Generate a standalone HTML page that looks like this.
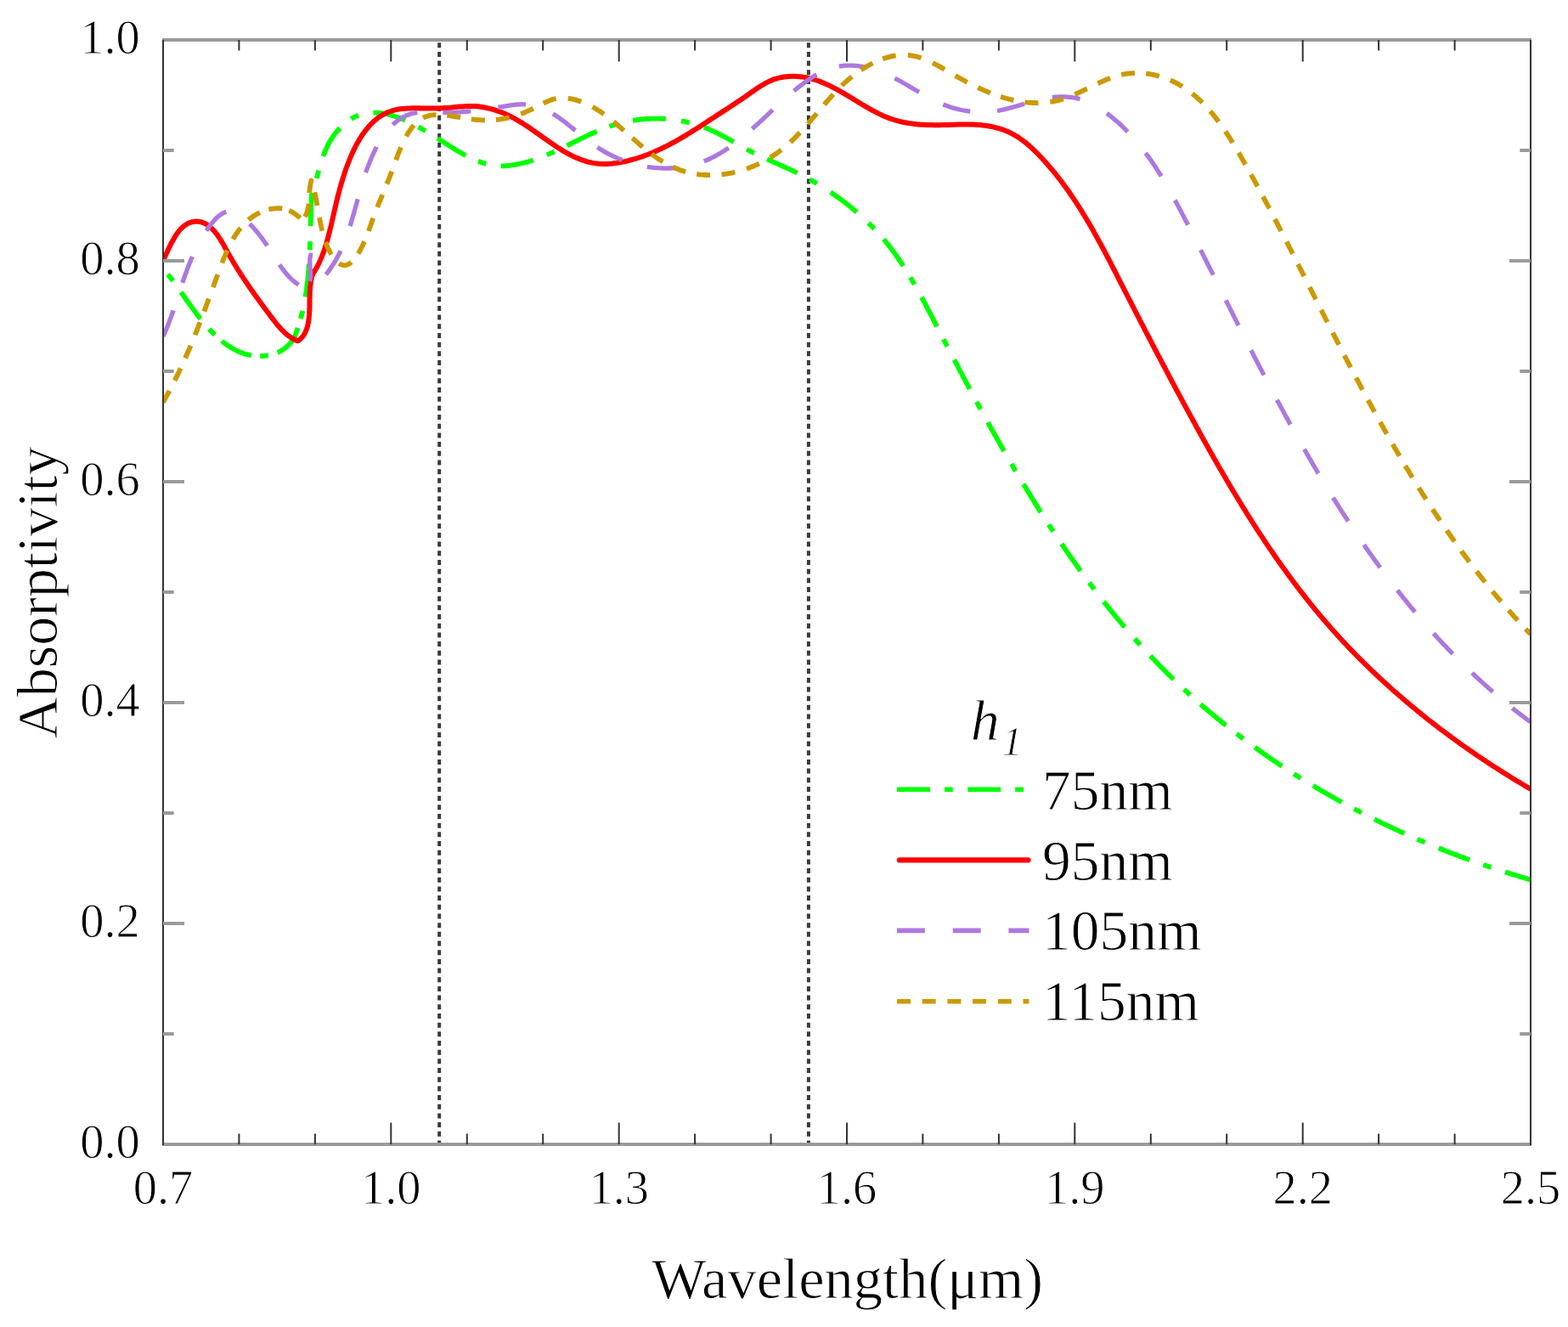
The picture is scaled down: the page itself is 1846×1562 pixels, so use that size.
<!DOCTYPE html>
<html><head><meta charset="utf-8"><title>Absorptivity vs Wavelength</title>
<style>html,body{margin:0;padding:0;background:#fff;} svg{display:block;}</style>
</head><body>
<svg width="1846" height="1562" viewBox="0 0 1846 1562">
<rect width="1846" height="1562" fill="#fff"/>
<defs><clipPath id="pc"><rect x="192.0" y="47.0" width="1610.0" height="1300.0"/></clipPath></defs>
<line x1="517.2" y1="50.2" x2="517.2" y2="1347" stroke="#3a3a3a" stroke-width="4" stroke-dasharray="6 4.68"/>
<line x1="951.9" y1="50.2" x2="951.9" y2="1347" stroke="#3a3a3a" stroke-width="4" stroke-dasharray="6 4.68"/>
<g clip-path="url(#pc)" fill="none" stroke-linejoin="round">
<path d="M192.0 316.0L193.9 318.3 195.9 320.6 197.7 323.0 199.6 325.4 201.5 327.8 203.3 330.2 205.1 332.6 206.9 335.1 208.6 337.5 210.4 340.0 212.2 342.5 213.9 345.0 215.7 347.5 217.4 350.0 219.2 352.5 220.9 355.0 222.7 357.4 224.5 359.9 226.3 362.4 228.1 364.9 229.9 367.3 231.7 369.8 233.6 372.2 235.4 374.6 237.4 377.0 239.3 379.3 241.3 381.7 243.3 384.0 245.3 386.2 247.4 388.5 249.5 390.7 251.7 392.9 253.9 395.0 256.1 397.1 258.4 399.1 260.7 401.1 263.1 403.0 265.5 404.8 268.0 406.5 270.5 408.2 273.1 409.8 275.7 411.2 278.4 412.6 281.1 413.8 283.8 415.0 286.6 416.0 289.5 416.9 292.4 417.6 295.3 418.2 298.3 418.7 301.3 419.0 304.3 419.1 307.3 419.1 310.3 419.0 313.3 418.6 316.2 418.2 319.2 417.5 322.0 416.7 324.8 415.7 327.6 414.6 330.2 413.2 332.8 411.7 335.2 410.1 337.5 408.2 339.7 406.1 341.8 403.9 343.7 401.5 345.4 398.8 347.0 396.0 348.1 393.2 349.1 390.3 350.1 387.5 351.1 384.6 352.0 381.7 352.9 378.8 353.7 375.9 354.5 373.0 355.2 370.1 356.0 367.2 356.6 364.3 357.3 361.3 357.9 358.4 358.5 355.5 359.0 352.5 359.5 349.5 360.0 346.6 360.4 343.6 360.9 340.6 361.3 337.7 361.6 334.7 362.0 331.7 362.3 328.7 362.6 325.7 362.9 322.7 363.1 319.7 363.4 316.7 363.6 313.7 363.8 310.6 364.0 307.6 364.2 304.6 364.4 301.6 364.5 298.6 364.6 295.5 364.8 292.5 364.9 289.5 365.0 286.5 365.1 283.4 365.2 280.4 365.3 277.4 365.4 274.4 365.5 271.3 365.6 268.3 365.6 265.3 365.7 262.3 365.8 259.2 365.9 256.2 366.0 253.2 366.1 250.2 366.2 247.2 366.3 244.2 366.4 241.2 366.6 238.2 366.7 235.2 366.8 232.2 367.0 229.2 367.9 226.6 368.8 224.0 369.6 221.3 370.4 218.6 371.2 215.8 372.0 212.9 372.8 210.0 373.5 207.1 374.3 204.2 375.1 201.2 376.0 198.2 376.8 195.2 377.7 192.2 378.7 189.2 379.7 186.3 380.7 183.3 381.8 180.4 383.0 177.4 384.3 174.6 385.6 171.7 387.0 168.9 388.6 166.2 390.2 163.5 391.9 160.9 393.7 158.3 395.7 155.8 397.7 153.5 399.8 151.2 401.9 149.0 404.2 146.9 406.5 144.9 408.8 143.1 411.2 141.4 413.7 139.8 416.2 138.4 418.7 137.2 421.3 136.1 423.9 135.1 426.5 134.4 429.1 133.7 431.8 133.2 434.5 132.9 437.2 132.7 439.9 132.6 442.6 132.7 445.4 132.8 448.2 133.1 450.9 133.5 453.7 134.0 456.5 134.6 459.4 135.3 462.2 136.1 465.0 137.0 467.9 138.0 470.7 139.0 473.5 140.2 476.4 141.4 479.2 142.6 482.1 144.0 484.9 145.4 487.7 146.8 490.5 148.3 493.4 149.8 496.2 151.4 499.0 153.0 501.8 154.6 504.5 156.2 507.3 157.9 510.0 159.6 512.7 161.3 515.4 163.0 518.1 164.7 520.8 166.4 523.4 168.1 526.1 169.8 528.7 171.4 531.3 173.0 533.9 174.7 536.4 176.2 539.0 177.8 541.6 179.3 544.1 180.8 546.7 182.2 549.3 183.6 551.9 184.9 554.4 186.2 557.0 187.4 559.6 188.5 562.2 189.5 564.9 190.5 567.5 191.4 570.2 192.3 572.9 193.0 575.6 193.6 578.3 194.2 581.1 194.6 583.9 194.9 586.7 195.2 589.6 195.3 592.4 195.3 595.4 195.2 598.3 194.9 601.3 194.6 604.3 194.2 607.3 193.7 610.3 193.2 613.3 192.5 616.3 191.8 619.3 191.0 622.2 190.2 625.2 189.3 628.1 188.3 631.0 187.3 633.9 186.3 636.8 185.2 639.7 184.1 642.5 182.9 645.3 181.7 648.1 180.5 650.9 179.3 653.7 178.0 656.4 176.7 659.2 175.4 661.9 174.1 664.6 172.8 667.4 171.5 670.1 170.1 672.8 168.8 675.5 167.4 678.2 166.1 680.9 164.8 683.6 163.4 686.3 162.1 689.0 160.8 691.7 159.5 694.4 158.3 697.2 157.0 699.9 155.8 702.6 154.6 705.4 153.4 708.1 152.3 710.9 151.2 713.7 150.2 716.5 149.2 719.3 148.2 722.1 147.3 725.0 146.4 727.8 145.6 730.7 144.8 733.6 144.1 736.5 143.5 739.5 142.9 742.4 142.3 745.4 141.8 748.3 141.3 751.3 140.9 754.3 140.6 757.2 140.3 760.2 140.0 763.2 139.8 766.2 139.7 769.2 139.6 772.2 139.6 775.2 139.6 778.2 139.7 781.2 139.8 784.2 140.0 787.2 140.2 790.2 140.5 793.2 140.9 796.1 141.3 799.1 141.8 802.1 142.3 805.0 142.8 807.9 143.5 810.8 144.2 813.8 144.9 816.6 145.7 819.5 146.5 822.4 147.5 825.2 148.4 828.0 149.4 830.8 150.5 833.6 151.7 836.4 152.9 839.1 154.1 841.8 155.4 844.5 156.7 847.2 158.1 849.9 159.5 852.5 160.9 855.2 162.3 857.9 163.8 860.5 165.3 863.1 166.8 865.8 168.3 868.4 169.7 871.0 171.2 873.7 172.7 876.3 174.2 879.0 175.6 881.6 177.0 884.3 178.4 886.9 179.8 889.6 181.1 892.3 182.4 895.0 183.7 897.7 184.9 900.4 186.2 903.1 187.4 905.8 188.6 908.5 189.8 911.2 191.0 913.9 192.2 916.7 193.4 919.4 194.6 922.1 195.8 924.8 197.1 927.5 198.3 930.2 199.5 932.9 200.8 935.6 202.1 938.3 203.4 941.0 204.7 943.7 206.1 946.3 207.4 949.0 208.9 951.6 210.3 954.2 211.7 956.9 213.2 959.5 214.7 962.1 216.3 964.7 217.8 967.3 219.4 969.8 221.0 972.4 222.6 974.9 224.3 977.4 225.9 979.9 227.6 982.4 229.4 984.9 231.1 987.4 232.9 989.8 234.7 992.3 236.5 994.7 238.3 997.1 240.2 999.4 242.0 1001.8 243.9 1004.1 245.9 1006.4 247.8 1008.7 249.8 1011.0 251.8 1013.3 253.8 1015.5 255.8 1017.7 257.8 1019.9 259.9 1022.1 262.0 1024.2 264.1 1026.3 266.2 1028.4 268.4 1030.5 270.6 1032.5 272.8 1034.5 275.0 1036.5 277.2 1038.5 279.4 1040.4 281.7 1042.3 284.0 1044.2 286.3 1046.1 288.6 1047.9 291.0 1049.7 293.3 1051.5 295.7 1053.2 298.1 1054.9 300.5 1056.6 302.9 1058.3 305.3 1060.0 307.8 1061.6 310.3 1063.3 312.7 1064.9 315.2 1066.4 317.7 1068.0 320.3 1069.6 322.8 1071.1 325.3 1072.6 327.9 1074.1 330.4 1075.6 333.0 1077.1 335.6 1078.6 338.2 1080.0 340.7 1081.5 343.3 1082.9 346.0 1084.3 348.6 1085.7 351.2 1087.2 353.8 1088.6 356.5 1090.0 359.1 1091.3 361.7 1092.7 364.4 1094.1 367.0 1095.5 369.7 1096.9 372.4 1098.3 375.0 1099.6 377.7 1101.0 380.3 1102.4 383.0 1103.8 385.7 1105.1 388.3 1106.5 391.0 1107.9 393.7 1109.3 396.3 1110.7 399.0 1112.0 401.7 1113.4 404.3 1114.8 407.0 1116.2 409.6 1117.6 412.3 1119.0 415.0 1120.4 417.6 1121.8 420.3 1123.2 423.0 1124.6 425.6 1126.0 428.3 1127.4 431.0 1128.8 433.6 1130.2 436.3 1131.6 439.0 1133.0 441.6 1134.4 444.3 1135.8 447.0 1137.2 449.6 1138.7 452.3 1140.1 454.9 1141.5 457.6 1142.9 460.3 1144.4 462.9 1145.8 465.6 1147.2 468.2 1148.7 470.9 1150.1 473.5 1151.5 476.2 1153.0 478.8 1154.4 481.5 1155.9 484.1 1157.3 486.8 1158.8 489.4 1160.2 492.1 1161.7 494.7 1163.1 497.4 1164.6 500.0 1166.1 502.6 1167.5 505.3 1169.0 507.9 1170.5 510.5 1172.0 513.2 1173.4 515.8 1174.9 518.4 1176.4 521.1 1177.9 523.7 1179.4 526.3 1180.9 528.9 1182.4 531.5 1183.9 534.2 1185.4 536.8 1186.9 539.4 1188.4 542.0 1190.0 544.6 1191.5 547.2 1193.0 549.8 1194.5 552.4 1196.1 555.0 1197.6 557.6 1199.1 560.2 1200.7 562.8 1202.2 565.4 1203.8 567.9 1205.3 570.5 1206.9 573.1 1208.5 575.7 1210.0 578.3 1211.6 580.8 1213.2 583.4 1214.8 586.0 1216.4 588.5 1217.9 591.1 1219.5 593.6 1221.1 596.2 1222.7 598.7 1224.3 601.3 1226.0 603.8 1227.6 606.3 1229.2 608.9 1230.8 611.4 1232.5 613.9 1234.1 616.4 1235.7 619.0 1237.4 621.5 1239.0 624.0 1240.7 626.5 1242.3 629.0 1244.0 631.5 1245.7 634.0 1247.4 636.5 1249.0 639.0 1250.7 641.4 1252.4 643.9 1254.1 646.4 1255.8 648.9 1257.5 651.3 1259.2 653.8 1260.9 656.2 1262.7 658.7 1264.4 661.1 1266.1 663.6 1267.9 666.0 1269.6 668.5 1271.4 670.9 1273.1 673.3 1274.9 675.7 1276.6 678.1 1278.4 680.6 1280.2 683.0 1282.0 685.4 1283.8 687.7 1285.6 690.1 1287.4 692.5 1289.2 694.9 1291.0 697.3 1292.8 699.6 1294.6 702.0 1296.5 704.4 1298.3 706.7 1300.2 709.1 1302.0 711.4 1303.9 713.7 1305.7 716.1 1307.6 718.4 1309.5 720.7 1311.4 723.0 1313.3 725.3 1315.2 727.6 1317.1 729.9 1319.0 732.2 1320.9 734.5 1322.8 736.8 1324.8 739.0 1326.7 741.3 1328.7 743.6 1330.6 745.8 1332.6 748.0 1334.5 750.3 1336.5 752.5 1338.5 754.7 1340.5 757.0 1342.5 759.2 1344.5 761.4 1346.5 763.6 1348.5 765.8 1350.5 768.0 1352.6 770.1 1354.6 772.3 1356.7 774.5 1358.7 776.6 1360.8 778.8 1362.8 780.9 1364.9 783.1 1367.0 785.2 1369.1 787.3 1371.2 789.4 1373.3 791.5 1375.4 793.6 1377.6 795.7 1379.7 797.8 1381.8 799.9 1384.0 802.0 1386.1 804.0 1388.3 806.1 1390.5 808.1 1392.7 810.2 1394.9 812.2 1397.1 814.2 1399.3 816.3 1401.5 818.3 1403.7 820.3 1405.9 822.3 1408.1 824.3 1410.4 826.3 1412.6 828.2 1414.9 830.2 1417.2 832.2 1419.4 834.1 1421.7 836.0 1424.0 838.0 1426.3 839.9 1428.6 841.8 1430.9 843.7 1433.2 845.7 1435.5 847.6 1437.9 849.4 1440.2 851.3 1442.5 853.2 1444.9 855.1 1447.2 856.9 1449.6 858.8 1452.0 860.6 1454.3 862.5 1456.7 864.3 1459.1 866.1 1461.5 867.9 1463.9 869.8 1466.3 871.6 1468.7 873.3 1471.1 875.1 1473.6 876.9 1476.0 878.7 1478.4 880.4 1480.9 882.2 1483.3 883.9 1485.8 885.7 1488.2 887.4 1490.7 889.1 1493.2 890.9 1495.7 892.6 1498.1 894.3 1500.6 896.0 1503.1 897.6 1505.6 899.3 1508.1 901.0 1510.6 902.7 1513.2 904.3 1515.7 906.0 1518.2 907.6 1520.8 909.2 1523.3 910.9 1525.8 912.5 1528.4 914.1 1530.9 915.7 1533.5 917.3 1536.1 918.9 1538.6 920.4 1541.2 922.0 1543.8 923.6 1546.4 925.1 1549.0 926.7 1551.6 928.2 1554.2 929.8 1556.8 931.3 1559.4 932.8 1562.0 934.3 1564.6 935.8 1567.2 937.3 1569.9 938.8 1572.5 940.3 1575.1 941.7 1577.8 943.2 1580.4 944.6 1583.1 946.1 1585.7 947.5 1588.4 949.0 1591.0 950.4 1593.7 951.8 1596.4 953.2 1599.0 954.6 1601.7 956.0 1604.4 957.4 1607.1 958.8 1609.8 960.1 1612.5 961.5 1615.2 962.8 1617.9 964.2 1620.6 965.5 1623.3 966.9 1626.0 968.2 1628.7 969.5 1631.4 970.8 1634.1 972.1 1636.9 973.4 1639.6 974.7 1642.3 976.0 1645.1 977.2 1647.8 978.5 1650.5 979.7 1653.3 981.0 1656.0 982.2 1658.8 983.4 1661.5 984.7 1664.3 985.9 1667.1 987.1 1669.8 988.3 1672.6 989.5 1675.4 990.6 1678.1 991.8 1680.9 993.0 1683.7 994.1 1686.5 995.3 1689.2 996.4 1692.0 997.5 1694.8 998.7 1697.6 999.8 1700.4 1000.9 1703.2 1002.0 1706.0 1003.1 1708.8 1004.2 1711.6 1005.3 1714.4 1006.3 1717.2 1007.4 1720.0 1008.4 1722.8 1009.5 1725.6 1010.5 1728.4 1011.6 1731.2 1012.6 1734.0 1013.6 1736.8 1014.6 1739.7 1015.6 1742.5 1016.6 1745.3 1017.6 1748.1 1018.5 1750.9 1019.5 1753.8 1020.5 1756.6 1021.4 1759.4 1022.3 1762.3 1023.3 1765.1 1024.2 1767.9 1025.1 1770.8 1026.0 1773.6 1026.9 1776.4 1027.8 1779.3 1028.7 1782.1 1029.6 1784.9 1030.5 1787.8 1031.3 1790.6 1032.2 1793.5 1033.0 1796.3 1033.9 1799.2 1034.7 1802.0 1035.5" stroke="#00ff00" stroke-width="5.8" stroke-dasharray="0.00 8.91 9.80 16.24 39.00 15.46 9.80 11.04 39.00 10.41 9.80 11.16 39.00 11.20 9.80 16.73 39.00 16.74 9.80 18.19 39.00 17.80 9.80 17.41 39.00 16.98 9.80 17.73 39.00 17.28 9.80 16.50 39.00 16.10 9.80 17.48 39.00 17.06 9.80 16.26 39.00 15.95 9.80 18.65 39.00 18.35 9.80 18.12 39.00 17.59 9.80 16.86 39.00 16.53 9.80 19.02 39.00 18.57 9.80 16.36 39.00 15.85 9.80 17.01 39.00 16.70 9.80 17.56 39.00 17.19 9.80 17.68 39.00 17.29 9.80 17.71 39.00 17.30 9.80 17.50 39.00 17.13 9.80 18.31 39.00 17.90 9.80 17.46 39.00 16.94 9.80 16.34 39.00 15.93 9.80 16.90 39.00 16.54 9.80 16.88 39.00 16.49 9.80 17.02 39.00 16.66 9.80 17.46 39.00 17.09 9.80 17.41 31.03 50.00"/>
<path d="M192.0 306.5L193.2 304.2 194.4 301.7 195.6 299.0 196.9 296.3 198.2 293.4 199.6 290.5 201.0 287.6 202.5 284.7 204.1 281.9 205.7 279.1 207.4 276.4 209.3 273.8 211.2 271.3 213.2 269.1 215.4 267.0 217.7 265.2 220.1 263.7 222.6 262.4 225.3 261.5 228.0 260.9 230.8 260.6 233.6 260.7 236.4 261.2 239.1 262.1 241.7 263.3 244.2 264.8 246.6 266.6 248.8 268.5 250.9 270.6 252.9 272.8 254.8 275.1 256.6 277.6 258.3 280.2 260.0 282.8 261.6 285.5 263.2 288.2 264.7 291.0 266.2 293.8 267.8 296.5 269.3 299.3 270.8 301.9 272.4 304.6 273.9 307.3 275.5 309.9 277.1 312.5 278.7 315.1 280.2 317.6 281.9 320.2 283.5 322.7 285.1 325.2 286.7 327.7 288.4 330.1 290.0 332.6 291.7 335.0 293.4 337.5 295.1 339.9 296.8 342.3 298.5 344.8 300.2 347.2 302.0 349.6 303.7 352.0 305.5 354.4 307.2 356.8 309.0 359.2 310.8 361.7 312.6 364.1 314.4 366.5 316.3 368.9 318.1 371.4 319.9 373.9 321.8 376.3 323.7 378.8 325.6 381.2 327.6 383.5 329.6 385.9 331.7 388.1 333.8 390.2 336.0 392.3 338.2 394.2 340.6 395.9 343.0 397.6 345.6 399.0 348.2 400.3 351.0 401.3 353.3 399.4 355.3 397.3 357.1 395.1 358.6 392.7 359.8 390.2 360.9 387.6 361.8 384.9 362.5 382.1 363.0 379.2 363.5 376.2 363.8 373.3 364.1 370.2 364.2 367.2 364.4 364.1 364.5 361.0 364.5 357.8 364.5 354.7 364.6 351.6 364.7 348.5 364.7 345.4 364.9 342.3 365.1 339.3 365.4 336.3 365.8 333.3 366.2 330.4 366.9 327.5 367.6 324.7 368.5 322.0 370.1 319.6 371.6 317.1 373.0 314.6 374.4 312.0 375.7 309.3 376.9 306.6 378.1 303.9 379.2 301.2 380.3 298.4 381.3 295.5 382.3 292.7 383.2 289.8 384.1 286.9 385.0 284.0 385.8 281.0 386.6 278.1 387.4 275.1 388.1 272.1 388.8 269.2 389.6 266.2 390.3 263.2 390.9 260.3 391.6 257.3 392.3 254.4 393.0 251.5 393.6 248.6 394.3 245.7 395.0 242.8 395.6 239.9 396.3 237.0 397.0 234.2 397.7 231.3 398.4 228.5 399.2 225.6 399.9 222.8 400.7 220.0 401.5 217.1 402.3 214.3 403.2 211.5 404.1 208.6 405.0 205.8 405.9 202.9 406.9 200.1 407.9 197.2 409.0 194.3 410.1 191.5 411.2 188.6 412.4 185.7 413.6 182.8 414.9 180.0 416.2 177.1 417.6 174.3 419.0 171.5 420.5 168.8 422.0 166.1 423.6 163.4 425.2 160.8 426.9 158.3 428.7 155.8 430.5 153.4 432.3 151.1 434.3 148.8 436.2 146.6 438.3 144.6 440.4 142.6 442.6 140.7 444.8 138.9 447.1 137.3 449.5 135.8 451.9 134.4 454.4 133.1 457.0 132.0 459.7 131.0 462.4 130.1 465.2 129.4 468.0 128.8 471.0 128.3 473.9 128.0 476.9 127.7 480.0 127.5 483.1 127.4 486.2 127.3 489.3 127.3 492.5 127.3 495.6 127.4 498.8 127.4 502.0 127.5 505.1 127.5 508.3 127.6 511.4 127.6 514.6 127.5 517.7 127.5 520.7 127.3 523.8 127.1 526.8 126.9 529.8 126.7 532.7 126.4 535.7 126.1 538.6 125.8 541.5 125.6 544.4 125.4 547.3 125.2 550.2 125.1 553.1 125.0 556.0 125.0 559.0 125.1 561.9 125.3 564.8 125.6 567.7 126.0 570.6 126.5 573.6 127.1 576.5 127.8 579.4 128.5 582.2 129.4 585.1 130.3 587.9 131.3 590.7 132.4 593.5 133.5 596.2 134.7 598.9 136.0 601.5 137.3 604.2 138.7 606.8 140.1 609.3 141.6 611.9 143.1 614.4 144.6 617.0 146.2 619.5 147.9 622.0 149.5 624.5 151.2 627.0 153.0 629.5 154.7 632.0 156.5 634.5 158.2 636.9 160.0 639.4 161.8 641.9 163.5 644.4 165.3 646.9 167.1 649.4 168.8 652.0 170.5 654.5 172.2 657.0 173.9 659.6 175.5 662.1 177.1 664.7 178.6 667.3 180.1 669.9 181.5 672.6 182.9 675.2 184.2 677.9 185.4 680.6 186.5 683.3 187.6 686.0 188.6 688.8 189.5 691.5 190.3 694.4 191.0 697.2 191.6 700.1 192.1 703.0 192.5 705.9 192.8 708.9 192.9 711.9 192.9 714.9 192.9 717.9 192.7 720.9 192.5 724.0 192.1 727.0 191.7 730.1 191.2 733.1 190.6 736.1 190.0 739.1 189.3 742.1 188.5 745.1 187.7 748.0 186.9 750.9 186.0 753.8 185.0 756.7 184.1 759.5 183.0 762.4 182.0 765.2 180.9 767.9 179.7 770.7 178.6 773.4 177.3 776.2 176.1 778.9 174.8 781.5 173.5 784.2 172.2 786.9 170.8 789.5 169.4 792.1 168.0 794.8 166.6 797.4 165.1 800.0 163.6 802.5 162.1 805.1 160.6 807.7 159.1 810.2 157.5 812.8 156.0 815.3 154.4 817.8 152.8 820.4 151.2 822.9 149.6 825.4 148.0 827.9 146.3 830.4 144.7 832.9 143.1 835.4 141.4 837.9 139.8 840.4 138.2 842.9 136.5 845.4 134.9 848.0 133.3 850.5 131.6 853.0 130.0 855.5 128.4 858.0 126.7 860.5 125.1 863.0 123.4 865.5 121.7 868.0 120.1 870.5 118.4 873.0 116.7 875.6 115.0 878.1 113.3 880.6 111.5 883.1 109.8 885.6 108.0 888.1 106.3 890.6 104.5 893.2 102.8 895.7 101.2 898.3 99.6 900.9 98.1 903.6 96.7 906.3 95.4 909.0 94.2 911.8 93.2 914.6 92.3 917.5 91.6 920.4 91.0 923.3 90.5 926.2 90.2 929.2 89.9 932.1 89.8 935.1 89.8 938.1 89.9 941.1 90.2 944.0 90.5 947.0 90.9 949.9 91.5 952.8 92.1 955.7 92.8 958.5 93.6 961.4 94.5 964.2 95.5 966.9 96.6 969.7 97.7 972.4 98.9 975.1 100.1 977.8 101.4 980.5 102.8 983.2 104.2 985.9 105.6 988.5 107.1 991.1 108.6 993.8 110.1 996.4 111.7 999.0 113.2 1001.6 114.8 1004.2 116.4 1006.8 118.0 1009.5 119.6 1012.1 121.2 1014.7 122.8 1017.3 124.3 1019.9 125.9 1022.6 127.4 1025.2 128.9 1027.9 130.3 1030.5 131.7 1033.2 133.1 1035.9 134.4 1038.6 135.7 1041.4 136.9 1044.1 138.0 1046.9 139.1 1049.7 140.1 1052.5 141.0 1055.4 141.9 1058.2 142.6 1061.1 143.3 1064.0 144.0 1067.0 144.5 1069.9 145.0 1072.9 145.4 1075.9 145.8 1078.8 146.2 1081.8 146.4 1084.8 146.7 1087.9 146.8 1090.9 147.0 1093.9 147.1 1096.9 147.1 1099.9 147.2 1103.0 147.2 1106.0 147.2 1109.0 147.1 1112.0 147.0 1115.0 147.0 1118.0 146.9 1121.0 146.8 1124.0 146.7 1127.0 146.6 1130.0 146.5 1133.0 146.4 1136.0 146.4 1139.0 146.4 1142.0 146.5 1145.0 146.5 1148.0 146.7 1151.0 146.9 1154.0 147.1 1157.0 147.4 1160.0 147.8 1163.0 148.3 1166.0 148.8 1169.0 149.4 1171.9 150.1 1174.8 150.9 1177.7 151.7 1180.6 152.7 1183.4 153.7 1186.1 154.8 1188.8 156.0 1191.5 157.4 1194.1 158.8 1196.7 160.3 1199.2 161.9 1201.6 163.6 1204.0 165.3 1206.4 167.1 1208.8 169.0 1211.0 171.0 1213.3 173.0 1215.5 175.0 1217.7 177.1 1219.9 179.2 1222.0 181.4 1224.1 183.5 1226.2 185.7 1228.2 188.0 1230.3 190.2 1232.3 192.5 1234.2 194.7 1236.2 197.0 1238.1 199.3 1240.1 201.6 1242.0 203.9 1243.8 206.3 1245.7 208.7 1247.5 211.0 1249.4 213.4 1251.2 215.8 1252.9 218.2 1254.7 220.6 1256.5 223.1 1258.2 225.5 1259.9 228.0 1261.6 230.4 1263.3 232.9 1264.9 235.4 1266.6 237.9 1268.2 240.4 1269.9 243.0 1271.5 245.5 1273.1 248.0 1274.6 250.6 1276.2 253.1 1277.8 255.7 1279.3 258.3 1280.8 260.9 1282.4 263.4 1283.9 266.0 1285.4 268.6 1286.9 271.3 1288.3 273.9 1289.8 276.5 1291.3 279.1 1292.7 281.8 1294.2 284.4 1295.6 287.0 1297.0 289.7 1298.5 292.3 1299.9 295.0 1301.3 297.7 1302.7 300.3 1304.1 303.0 1305.5 305.7 1306.9 308.3 1308.3 311.0 1309.6 313.7 1311.0 316.4 1312.4 319.0 1313.8 321.7 1315.1 324.4 1316.5 327.1 1317.9 329.8 1319.2 332.5 1320.6 335.1 1322.0 337.8 1323.3 340.5 1324.7 343.2 1326.1 345.9 1327.4 348.5 1328.8 351.2 1330.2 353.9 1331.6 356.6 1332.9 359.2 1334.3 361.9 1335.7 364.6 1337.0 367.2 1338.4 369.9 1339.8 372.6 1341.2 375.2 1342.5 377.9 1343.9 380.6 1345.3 383.2 1346.7 385.9 1348.0 388.6 1349.4 391.2 1350.8 393.9 1352.2 396.5 1353.6 399.2 1355.0 401.9 1356.3 404.5 1357.7 407.2 1359.1 409.8 1360.5 412.5 1361.9 415.1 1363.3 417.8 1364.7 420.4 1366.1 423.1 1367.5 425.7 1368.9 428.4 1370.3 431.0 1371.7 433.7 1373.1 436.3 1374.5 439.0 1375.9 441.6 1377.3 444.3 1378.7 446.9 1380.1 449.6 1381.5 452.2 1382.9 454.9 1384.3 457.5 1385.7 460.2 1387.2 462.8 1388.6 465.4 1390.0 468.1 1391.4 470.7 1392.8 473.4 1394.3 476.0 1395.7 478.6 1397.1 481.3 1398.6 483.9 1400.0 486.6 1401.4 489.2 1402.9 491.8 1404.3 494.5 1405.7 497.1 1407.2 499.7 1408.6 502.4 1410.1 505.0 1411.5 507.7 1413.0 510.3 1414.4 512.9 1415.9 515.5 1417.4 518.2 1418.8 520.8 1420.3 523.4 1421.8 526.1 1423.2 528.7 1424.7 531.3 1426.2 533.9 1427.7 536.5 1429.2 539.2 1430.7 541.8 1432.1 544.4 1433.6 547.0 1435.1 549.6 1436.6 552.2 1438.2 554.8 1439.7 557.4 1441.2 560.0 1442.7 562.6 1444.2 565.2 1445.8 567.8 1447.3 570.4 1448.8 573.0 1450.4 575.6 1451.9 578.1 1453.5 580.7 1455.0 583.3 1456.6 585.9 1458.1 588.4 1459.7 591.0 1461.3 593.6 1462.8 596.1 1464.4 598.7 1466.0 601.2 1467.6 603.8 1469.2 606.3 1470.8 608.9 1472.4 611.4 1474.0 614.0 1475.6 616.5 1477.3 619.0 1478.9 621.6 1480.5 624.1 1482.2 626.6 1483.8 629.1 1485.5 631.6 1487.1 634.1 1488.8 636.6 1490.4 639.1 1492.1 641.6 1493.8 644.1 1495.5 646.6 1497.2 649.0 1498.9 651.5 1500.6 654.0 1502.3 656.5 1504.0 658.9 1505.7 661.4 1507.5 663.8 1509.2 666.3 1511.0 668.7 1512.7 671.1 1514.5 673.6 1516.2 676.0 1518.0 678.4 1519.8 680.8 1521.6 683.2 1523.4 685.6 1525.2 688.0 1527.0 690.4 1528.8 692.8 1530.6 695.2 1532.5 697.5 1534.3 699.9 1536.1 702.2 1538.0 704.6 1539.9 706.9 1541.7 709.3 1543.6 711.6 1545.5 713.9 1547.4 716.3 1549.3 718.6 1551.2 720.9 1553.1 723.2 1555.1 725.5 1557.0 727.8 1558.9 730.0 1560.9 732.3 1562.9 734.6 1564.8 736.8 1566.8 739.1 1568.8 741.3 1570.8 743.6 1572.8 745.8 1574.8 748.0 1576.8 750.2 1578.9 752.5 1580.9 754.7 1583.0 756.8 1585.0 759.0 1587.1 761.2 1589.1 763.4 1591.2 765.6 1593.3 767.7 1595.4 769.9 1597.5 772.0 1599.6 774.1 1601.8 776.3 1603.9 778.4 1606.0 780.5 1608.2 782.6 1610.3 784.7 1612.5 786.8 1614.6 788.9 1616.8 791.0 1619.0 793.0 1621.2 795.1 1623.4 797.2 1625.6 799.2 1627.8 801.3 1630.0 803.3 1632.2 805.3 1634.5 807.3 1636.7 809.4 1638.9 811.4 1641.2 813.4 1643.4 815.3 1645.7 817.3 1648.0 819.3 1650.3 821.3 1652.5 823.2 1654.8 825.2 1657.1 827.1 1659.4 829.1 1661.7 831.0 1664.1 832.9 1666.4 834.8 1668.7 836.8 1671.1 838.7 1673.4 840.6 1675.7 842.4 1678.1 844.3 1680.4 846.2 1682.8 848.1 1685.2 849.9 1687.6 851.8 1689.9 853.6 1692.3 855.4 1694.7 857.3 1697.1 859.1 1699.5 860.9 1701.9 862.7 1704.3 864.5 1706.8 866.3 1709.2 868.1 1711.6 869.9 1714.0 871.6 1716.5 873.4 1718.9 875.2 1721.4 876.9 1723.8 878.6 1726.3 880.4 1728.8 882.1 1731.2 883.8 1733.7 885.5 1736.2 887.2 1738.7 888.9 1741.1 890.6 1743.6 892.3 1746.1 893.9 1748.6 895.6 1751.1 897.3 1753.6 898.9 1756.1 900.6 1758.7 902.2 1761.2 903.8 1763.7 905.4 1766.2 907.0 1768.8 908.6 1771.3 910.2 1773.8 911.8 1776.4 913.4 1778.9 915.0 1781.5 916.6 1784.0 918.1 1786.6 919.7 1789.2 921.2 1791.7 922.7 1794.3 924.3 1796.9 925.8 1799.4 927.3 1802.0 928.8" stroke="#ff0000" stroke-width="6"/>
<path d="M192.0 396.0L193.3 393.1 194.6 390.3 195.8 387.4 197.0 384.6 198.1 381.7 199.2 378.9 200.3 376.0 201.4 373.2 202.4 370.3 203.4 367.5 204.4 364.7 205.4 361.8 206.3 359.0 207.2 356.2 208.2 353.4 209.1 350.5 210.0 347.7 210.9 344.9 211.8 342.1 212.7 339.3 213.6 336.5 214.6 333.7 215.5 330.9 216.4 328.2 217.4 325.4 218.4 322.6 219.4 319.8 220.4 317.1 221.4 314.3 222.5 311.5 223.6 308.8 224.7 306.0 225.9 303.3 227.1 300.5 228.4 297.8 229.6 295.1 231.0 292.3 232.4 289.6 233.8 286.9 235.3 284.2 236.8 281.4 238.4 278.7 240.1 276.0 241.8 273.3 243.6 270.6 245.5 267.9 247.4 265.3 249.4 262.7 251.5 260.2 253.6 257.9 255.8 255.7 258.1 253.8 260.5 252.1 262.9 250.7 265.4 249.6 268.0 248.8 270.6 248.5 273.2 248.7 275.7 249.4 278.2 250.5 280.6 251.9 282.9 253.6 285.2 255.5 287.5 257.4 289.7 259.4 291.9 261.4 294.1 263.6 296.2 265.8 298.2 268.0 300.3 270.3 302.3 272.7 304.2 275.0 306.1 277.5 308.0 279.9 309.8 282.4 311.6 285.0 313.4 287.5 315.1 290.0 316.8 292.6 318.4 295.2 320.1 297.8 321.7 300.3 323.3 302.9 325.0 305.4 326.6 307.9 328.3 310.4 330.0 312.9 331.7 315.3 333.5 317.7 335.3 320.0 337.2 322.2 339.1 324.4 341.1 326.6 343.2 328.6 345.4 330.6 347.7 332.5 350.1 334.2 352.6 335.9 355.2 337.5 358.0 339.0 360.6 337.5 362.6 335.6 364.0 333.3 364.9 330.7 365.4 327.8 365.6 324.7 365.6 321.5 365.4 318.2 365.1 314.9 364.9 311.6 364.7 308.4 364.8 305.3 365.1 302.5 365.8 300.0 367.9 302.5 369.9 305.1 371.8 307.7 373.7 310.4 375.6 313.1 377.5 315.8 379.4 318.4 381.4 321.0 383.5 323.5 385.4 321.1 387.3 318.6 389.0 316.1 390.7 313.6 392.4 311.1 393.9 308.5 395.4 306.0 396.9 303.4 398.3 300.8 399.6 298.1 400.9 295.5 402.1 292.8 403.3 290.1 404.5 287.4 405.6 284.7 406.7 282.0 407.7 279.2 408.7 276.5 409.6 273.7 410.6 270.9 411.5 268.1 412.4 265.3 413.3 262.4 414.1 259.6 414.9 256.7 415.8 253.9 416.6 251.0 417.4 248.1 418.2 245.2 419.0 242.3 419.8 239.4 420.6 236.5 421.4 233.6 422.2 230.6 423.0 227.7 423.9 224.7 424.7 221.8 425.6 218.8 426.5 215.9 427.4 212.9 428.3 209.9 429.3 207.0 430.3 204.0 431.3 201.0 432.4 198.1 433.5 195.1 434.7 192.2 435.9 189.2 437.1 186.3 438.3 183.4 439.7 180.5 441.0 177.7 442.4 174.9 443.8 172.2 445.3 169.5 446.9 166.8 448.5 164.3 450.1 161.7 451.8 159.3 453.5 156.9 455.3 154.6 457.1 152.4 459.0 150.3 461.0 148.2 463.0 146.3 465.0 144.5 467.1 142.7 469.3 141.1 471.5 139.6 473.8 138.2 476.2 137.0 478.6 135.8 481.1 134.9 483.7 134.0 486.3 133.3 489.0 132.8 491.7 132.4 494.5 132.1 497.4 131.9 500.3 131.8 503.2 131.8 506.2 131.9 509.2 132.0 512.2 132.1 515.2 132.2 518.3 132.3 521.3 132.4 524.4 132.4 527.4 132.4 530.4 132.4 533.5 132.3 536.5 132.2 539.5 132.1 542.5 131.9 545.5 131.7 548.6 131.5 551.6 131.2 554.6 130.9 557.6 130.6 560.6 130.3 563.7 129.9 566.7 129.5 569.7 129.1 572.7 128.6 575.8 128.2 578.8 127.7 581.8 127.2 584.8 126.7 587.9 126.2 590.9 125.7 594.0 125.1 597.0 124.6 600.0 124.1 603.0 123.7 606.0 123.3 609.0 123.0 611.9 122.8 614.8 122.7 617.7 122.8 620.5 122.9 623.3 123.3 626.1 123.7 628.8 124.3 631.5 125.0 634.1 125.8 636.7 126.8 639.3 127.8 641.8 129.0 644.4 130.2 646.9 131.6 649.4 133.0 651.8 134.5 654.3 136.0 656.7 137.7 659.1 139.4 661.5 141.1 663.9 142.9 666.3 144.7 668.7 146.6 671.1 148.5 673.5 150.4 675.9 152.4 678.3 154.3 680.7 156.3 683.2 158.2 685.6 160.2 688.0 162.1 690.5 164.1 693.0 166.0 695.5 167.8 698.0 169.7 700.5 171.5 703.1 173.2 705.7 174.9 708.3 176.5 711.0 178.1 713.7 179.6 716.4 181.1 719.1 182.5 721.9 183.8 724.7 185.1 727.5 186.4 730.3 187.5 733.1 188.6 736.0 189.7 738.9 190.7 741.8 191.6 744.7 192.5 747.6 193.3 750.5 194.0 753.4 194.7 756.4 195.3 759.3 195.9 762.2 196.4 765.2 196.8 768.2 197.2 771.1 197.5 774.1 197.7 777.0 197.9 780.0 198.0 782.9 198.1 785.9 198.1 788.8 198.0 791.7 197.9 794.6 197.6 797.6 197.4 800.5 197.0 803.3 196.6 806.2 196.2 809.1 195.6 811.9 195.0 814.7 194.3 817.5 193.6 820.3 192.8 823.1 191.9 825.8 190.9 828.5 189.9 831.2 188.8 833.8 187.7 836.5 186.5 839.1 185.2 841.7 183.9 844.2 182.5 846.8 181.0 849.3 179.5 851.8 178.0 854.3 176.3 856.8 174.7 859.2 173.0 861.7 171.3 864.1 169.5 866.5 167.6 868.9 165.8 871.3 163.9 873.6 162.0 876.0 160.0 878.3 158.0 880.7 156.0 883.0 154.0 885.3 152.0 887.6 149.9 889.9 147.8 892.2 145.7 894.5 143.6 896.8 141.5 899.1 139.3 901.4 137.2 903.7 135.1 906.0 132.9 908.2 130.8 910.5 128.7 912.8 126.5 915.1 124.4 917.4 122.3 919.7 120.2 922.0 118.1 924.3 116.0 926.6 114.0 928.9 111.9 931.3 109.9 933.6 107.9 936.0 106.0 938.3 104.0 940.7 102.1 943.1 100.3 945.5 98.5 947.9 96.7 950.3 94.9 952.8 93.3 955.2 91.6 957.7 90.1 960.2 88.6 962.8 87.2 965.3 85.8 967.9 84.6 970.5 83.4 973.1 82.3 975.8 81.3 978.4 80.4 981.2 79.6 983.9 78.9 986.7 78.3 989.5 77.8 992.3 77.5 995.2 77.2 998.1 77.1 1001.0 77.1 1004.0 77.2 1006.9 77.4 1009.9 77.7 1012.8 78.1 1015.8 78.5 1018.8 79.1 1021.7 79.8 1024.7 80.5 1027.6 81.4 1030.5 82.3 1033.4 83.2 1036.3 84.3 1039.1 85.4 1042.0 86.6 1044.7 87.8 1047.5 89.1 1050.3 90.5 1053.0 91.9 1055.7 93.3 1058.4 94.8 1061.1 96.2 1063.7 97.8 1066.4 99.3 1069.0 100.8 1071.7 102.4 1074.3 104.0 1077.0 105.5 1079.6 107.1 1082.3 108.6 1084.9 110.2 1087.5 111.7 1090.2 113.2 1092.8 114.6 1095.5 116.0 1098.2 117.4 1100.9 118.8 1103.6 120.1 1106.3 121.3 1109.1 122.5 1111.8 123.6 1114.6 124.6 1117.4 125.6 1120.3 126.5 1123.1 127.4 1126.0 128.1 1128.8 128.8 1131.7 129.5 1134.6 130.0 1137.6 130.5 1140.5 130.9 1143.4 131.3 1146.4 131.5 1149.3 131.7 1152.3 131.8 1155.2 131.9 1158.2 131.9 1161.2 131.7 1164.1 131.6 1167.1 131.3 1170.1 131.0 1173.0 130.5 1176.0 130.1 1178.9 129.5 1181.9 128.9 1184.8 128.2 1187.8 127.4 1190.7 126.7 1193.6 125.8 1196.6 125.0 1199.5 124.1 1202.5 123.3 1205.4 122.4 1208.4 121.5 1211.3 120.7 1214.3 119.9 1217.2 119.0 1220.2 118.3 1223.2 117.6 1226.2 116.9 1229.1 116.3 1232.1 115.7 1235.1 115.2 1238.1 114.8 1241.1 114.5 1244.1 114.2 1247.1 114.0 1250.0 113.9 1253.0 113.9 1255.9 114.1 1258.9 114.3 1261.8 114.6 1264.6 115.0 1267.5 115.6 1270.3 116.3 1273.1 117.1 1275.9 118.0 1278.6 119.1 1281.3 120.2 1284.0 121.5 1286.7 122.9 1289.3 124.3 1291.9 125.8 1294.4 127.4 1296.9 129.1 1299.4 130.8 1301.9 132.5 1304.3 134.3 1306.7 136.2 1309.0 138.0 1311.3 139.9 1313.6 141.9 1315.9 143.8 1318.1 145.8 1320.3 147.8 1322.4 149.9 1324.5 152.0 1326.6 154.1 1328.7 156.2 1330.8 158.4 1332.8 160.6 1334.8 162.8 1336.7 165.1 1338.7 167.4 1340.6 169.6 1342.4 172.0 1344.3 174.3 1346.1 176.7 1348.0 179.1 1349.7 181.5 1351.5 183.9 1353.3 186.3 1355.0 188.8 1356.7 191.3 1358.4 193.8 1360.1 196.3 1361.7 198.8 1363.3 201.4 1365.0 203.9 1366.6 206.5 1368.2 209.1 1369.7 211.7 1371.3 214.3 1372.8 216.9 1374.3 219.5 1375.9 222.2 1377.4 224.8 1378.8 227.5 1380.3 230.1 1381.8 232.8 1383.2 235.5 1384.7 238.2 1386.1 240.9 1387.6 243.5 1389.0 246.2 1390.4 248.9 1391.8 251.6 1393.2 254.3 1394.6 257.0 1396.0 259.7 1397.4 262.4 1398.8 265.1 1400.1 267.8 1401.5 270.5 1402.9 273.2 1404.3 275.9 1405.6 278.6 1407.0 281.3 1408.4 284.0 1409.7 286.7 1411.1 289.3 1412.4 292.0 1413.8 294.7 1415.1 297.4 1416.5 300.1 1417.8 302.7 1419.2 305.4 1420.5 308.1 1421.8 310.8 1423.2 313.4 1424.5 316.1 1425.9 318.8 1427.2 321.4 1428.5 324.1 1429.9 326.8 1431.2 329.4 1432.5 332.1 1433.9 334.8 1435.2 337.4 1436.5 340.1 1437.9 342.8 1439.2 345.4 1440.5 348.1 1441.9 350.8 1443.2 353.4 1444.5 356.1 1445.9 358.7 1447.2 361.4 1448.5 364.1 1449.9 366.7 1451.2 369.4 1452.5 372.1 1453.9 374.7 1455.2 377.4 1456.6 380.1 1457.9 382.7 1459.3 385.4 1460.6 388.1 1462.0 390.7 1463.3 393.4 1464.7 396.1 1466.0 398.7 1467.4 401.4 1468.7 404.1 1470.1 406.7 1471.4 409.4 1472.8 412.1 1474.2 414.7 1475.5 417.4 1476.9 420.1 1478.3 422.7 1479.7 425.4 1481.0 428.1 1482.4 430.7 1483.8 433.4 1485.2 436.1 1486.6 438.7 1488.0 441.4 1489.4 444.1 1490.7 446.7 1492.1 449.4 1493.5 452.1 1494.9 454.7 1496.3 457.4 1497.8 460.0 1499.2 462.7 1500.6 465.4 1502.0 468.0 1503.4 470.7 1504.8 473.3 1506.3 476.0 1507.7 478.6 1509.1 481.3 1510.6 483.9 1512.0 486.6 1513.4 489.2 1514.9 491.9 1516.3 494.5 1517.8 497.2 1519.2 499.8 1520.7 502.4 1522.1 505.1 1523.6 507.7 1525.1 510.4 1526.6 513.0 1528.0 515.6 1529.5 518.2 1531.0 520.9 1532.5 523.5 1534.0 526.1 1535.5 528.7 1537.0 531.3 1538.5 534.0 1540.0 536.6 1541.5 539.2 1543.0 541.8 1544.5 544.4 1546.0 547.0 1547.6 549.6 1549.1 552.2 1550.6 554.8 1552.2 557.4 1553.7 560.0 1555.3 562.6 1556.8 565.1 1558.4 567.7 1559.9 570.3 1561.5 572.9 1563.1 575.4 1564.6 578.0 1566.2 580.6 1567.8 583.1 1569.4 585.7 1571.0 588.3 1572.6 590.8 1574.2 593.3 1575.8 595.9 1577.4 598.4 1579.0 601.0 1580.7 603.5 1582.3 606.0 1583.9 608.6 1585.6 611.1 1587.2 613.6 1588.9 616.1 1590.5 618.6 1592.2 621.1 1593.8 623.6 1595.5 626.1 1597.2 628.6 1598.9 631.1 1600.6 633.6 1602.3 636.1 1604.0 638.6 1605.7 641.0 1607.4 643.5 1609.1 646.0 1610.8 648.4 1612.5 650.9 1614.3 653.3 1616.0 655.8 1617.8 658.2 1619.5 660.6 1621.3 663.1 1623.0 665.5 1624.8 667.9 1626.6 670.3 1628.4 672.7 1630.1 675.1 1631.9 677.5 1633.7 679.9 1635.6 682.3 1637.4 684.7 1639.2 687.1 1641.0 689.5 1642.8 691.8 1644.7 694.2 1646.5 696.5 1648.4 698.9 1650.2 701.2 1652.1 703.6 1654.0 705.9 1655.9 708.2 1657.8 710.6 1659.6 712.9 1661.5 715.2 1663.5 717.5 1665.4 719.8 1667.3 722.1 1669.2 724.4 1671.2 726.6 1673.1 728.9 1675.1 731.2 1677.0 733.4 1679.0 735.7 1681.0 737.9 1682.9 740.2 1684.9 742.4 1686.9 744.6 1688.9 746.9 1690.9 749.1 1692.9 751.3 1695.0 753.5 1697.0 755.7 1699.0 757.9 1701.1 760.0 1703.2 762.2 1705.2 764.4 1707.3 766.5 1709.4 768.7 1711.5 770.8 1713.6 773.0 1715.7 775.1 1717.8 777.2 1719.9 779.3 1722.0 781.4 1724.2 783.5 1726.3 785.6 1728.5 787.7 1730.6 789.8 1732.8 791.8 1735.0 793.9 1737.2 796.0 1739.3 798.0 1741.6 800.0 1743.8 802.1 1746.0 804.1 1748.2 806.1 1750.5 808.1 1752.7 810.1 1755.0 812.1 1757.2 814.1 1759.5 816.0 1761.8 818.0 1764.1 819.9 1766.4 821.9 1768.7 823.8 1771.0 825.8 1773.3 827.7 1775.7 829.6 1778.0 831.5 1780.4 833.4 1782.7 835.3 1785.1 837.1 1787.5 839.0 1789.9 840.9 1792.3 842.7 1794.7 844.5 1797.1 846.4 1799.6 848.2 1802.0 850.0" stroke="#ad78e0" stroke-width="5.3" stroke-dasharray="0.00 0.00 32.96 34.19 33.00 34.65 33.00 32.65 33.00 26.62 33.00 18.11 33.00 28.19 33.00 31.22 33.00 32.52 33.00 32.26 33.00 30.01 33.00 32.47 33.00 34.02 33.00 32.58 33.00 30.37 33.00 35.12 33.00 35.68 33.00 33.46 33.00 28.22 33.00 35.20 33.00 31.93 33.00 31.86 33.00 33.77 33.00 35.83 33.00 32.65 33.00 32.45 33.00 32.90 33.00 33.33 33.00 32.72 33.00 33.04 33.00 33.37 33.00 33.39 33.00 33.22 33.00 33.55 33.00 33.35 33.00 32.01 33.00 29.80 26.96 50.00"/>
<path d="M192.0 473.5L193.5 470.8 195.0 468.1 196.5 465.4 198.0 462.7 199.5 460.0 200.9 457.3 202.3 454.6 203.7 451.9 205.1 449.2 206.4 446.5 207.7 443.8 209.1 441.1 210.4 438.4 211.6 435.7 212.9 433.1 214.2 430.4 215.4 427.7 216.6 425.0 217.8 422.2 219.0 419.5 220.2 416.8 221.4 414.1 222.6 411.4 223.7 408.7 224.9 406.0 226.0 403.3 227.1 400.5 228.2 397.8 229.3 395.1 230.4 392.3 231.5 389.6 232.6 386.8 233.7 384.1 234.7 381.3 235.8 378.6 236.9 375.8 237.9 373.0 239.0 370.2 240.0 367.4 241.1 364.7 242.1 361.9 243.1 359.0 244.2 356.2 245.2 353.4 246.3 350.6 247.3 347.7 248.3 344.9 249.4 342.1 250.4 339.2 251.5 336.3 252.5 333.4 253.6 330.6 254.6 327.7 255.7 324.8 256.8 321.8 257.9 318.9 258.9 316.0 260.0 313.1 261.2 310.2 262.3 307.2 263.4 304.4 264.6 301.5 265.9 298.6 267.1 295.8 268.4 293.0 269.7 290.2 271.1 287.5 272.5 284.8 273.9 282.2 275.4 279.6 277.0 277.1 278.6 274.6 280.3 272.2 282.0 269.9 283.9 267.7 285.7 265.5 287.7 263.4 289.7 261.4 291.8 259.4 294.0 257.6 296.3 255.9 298.7 254.2 301.1 252.7 303.7 251.3 306.3 250.0 309.1 248.8 311.9 247.8 314.8 246.9 317.7 246.2 320.7 245.6 323.6 245.3 326.6 245.1 329.6 245.2 332.5 245.6 335.4 246.1 338.3 247.0 341.1 248.1 343.8 249.5 346.4 251.2 348.9 253.0 351.4 254.9 353.7 257.0 356.0 259.0 357.9 256.7 359.5 254.2 360.8 251.6 361.8 248.9 362.5 246.0 363.1 243.0 363.5 240.0 363.8 236.9 364.0 233.8 364.1 230.6 364.3 227.5 364.5 224.3 364.8 221.3 365.2 218.3 365.8 215.3 366.5 212.5 367.5 215.5 368.3 218.5 369.2 221.4 369.9 224.3 370.6 227.1 371.2 229.9 371.8 232.7 372.3 235.5 372.8 238.3 373.3 241.1 373.8 243.9 374.3 246.7 374.8 249.5 375.3 252.3 375.8 255.2 376.4 258.1 377.0 261.1 377.6 264.0 378.3 267.1 379.0 270.2 379.8 273.3 380.7 276.5 381.7 279.7 382.7 282.9 383.8 286.1 385.0 289.2 386.3 292.3 387.7 295.2 389.2 298.0 390.7 300.7 392.4 303.1 394.2 305.4 396.0 307.4 397.9 309.1 399.8 310.5 401.8 311.5 403.7 312.1 405.7 312.3 407.7 312.0 409.7 311.3 411.6 310.2 413.5 308.7 415.4 306.9 417.3 304.8 419.1 302.4 420.8 299.9 422.5 297.1 424.2 294.2 425.7 291.3 427.2 288.2 428.6 285.1 430.0 282.1 431.2 279.0 432.4 275.9 433.6 272.9 434.7 269.9 435.7 266.9 436.8 263.9 437.8 261.0 438.8 258.1 439.8 255.3 440.9 252.6 441.9 249.9 442.9 247.2 443.9 244.6 445.0 242.0 446.0 239.4 447.1 236.9 448.1 234.3 449.2 231.8 450.3 229.2 451.3 226.7 452.4 224.1 453.5 221.5 454.5 218.9 455.6 216.2 456.7 213.5 457.8 210.8 458.9 208.0 460.0 205.1 461.1 202.2 462.2 199.2 463.3 196.2 464.4 193.1 465.6 190.0 466.7 186.9 467.9 183.7 469.1 180.6 470.4 177.5 471.6 174.4 472.9 171.4 474.3 168.4 475.7 165.5 477.1 162.6 478.7 159.8 480.2 157.1 481.8 154.6 483.5 152.1 485.3 149.8 487.1 147.6 489.0 145.5 491.0 143.6 493.0 141.9 495.2 140.4 497.4 139.1 499.8 137.9 502.2 137.0 504.7 136.3 507.3 135.7 510.0 135.4 512.7 135.1 515.5 135.1 518.4 135.1 521.3 135.3 524.3 135.5 527.3 135.9 530.3 136.3 533.4 136.8 536.5 137.3 539.6 137.8 542.7 138.3 545.8 138.9 548.9 139.4 552.0 139.9 555.1 140.3 558.2 140.7 561.2 141.0 564.2 141.2 567.2 141.4 570.1 141.5 573.1 141.5 576.0 141.5 578.9 141.3 581.8 141.1 584.6 140.9 587.5 140.6 590.3 140.2 593.2 139.7 596.0 139.1 598.8 138.5 601.6 137.8 604.4 137.1 607.1 136.2 609.9 135.3 612.7 134.3 615.5 133.3 618.2 132.1 621.0 130.9 623.8 129.7 626.6 128.3 629.3 126.9 632.1 125.4 634.9 123.9 637.7 122.5 640.6 121.1 643.4 119.8 646.2 118.6 649.1 117.5 652.0 116.6 654.9 116.0 657.9 115.5 660.9 115.3 663.8 115.3 666.8 115.5 669.8 115.9 672.7 116.4 675.7 117.1 678.6 117.9 681.4 118.7 684.2 119.7 687.0 120.8 689.7 121.9 692.4 123.2 695.0 124.5 697.5 125.8 700.1 127.2 702.6 128.7 705.0 130.2 707.4 131.8 709.8 133.5 712.2 135.2 714.5 136.9 716.8 138.7 719.2 140.5 721.4 142.4 723.7 144.3 726.0 146.2 728.3 148.2 730.5 150.1 732.8 152.1 735.1 154.1 737.3 156.2 739.6 158.2 741.9 160.2 744.2 162.3 746.5 164.3 748.9 166.4 751.2 168.4 753.6 170.5 756.0 172.5 758.4 174.5 760.9 176.4 763.3 178.4 765.8 180.3 768.3 182.2 770.8 184.0 773.4 185.8 775.9 187.5 778.5 189.1 781.1 190.7 783.7 192.3 786.4 193.8 789.1 195.1 791.8 196.5 794.5 197.7 797.3 198.8 800.0 199.9 802.8 200.9 805.6 201.7 808.5 202.5 811.3 203.3 814.2 203.9 817.1 204.5 819.9 204.9 822.9 205.3 825.8 205.6 828.7 205.9 831.6 206.0 834.5 206.1 837.5 206.1 840.4 206.1 843.4 205.9 846.3 205.7 849.2 205.5 852.2 205.1 855.1 204.7 858.0 204.2 860.9 203.7 863.8 203.0 866.7 202.3 869.6 201.6 872.5 200.8 875.3 199.9 878.2 199.0 881.0 198.0 883.8 196.9 886.6 195.8 889.3 194.6 892.1 193.4 894.8 192.1 897.4 190.7 900.1 189.3 902.7 187.9 905.3 186.4 907.9 184.8 910.4 183.2 912.9 181.5 915.3 179.8 917.7 178.0 920.1 176.2 922.4 174.4 924.7 172.5 927.0 170.5 929.2 168.6 931.4 166.5 933.6 164.5 935.7 162.4 937.8 160.3 939.9 158.1 941.9 156.0 944.0 153.8 946.0 151.6 948.0 149.3 950.0 147.1 952.0 144.8 953.9 142.5 955.9 140.2 957.8 137.9 959.8 135.6 961.7 133.3 963.7 131.0 965.6 128.7 967.6 126.4 969.6 124.1 971.5 121.8 973.5 119.5 975.5 117.2 977.5 115.0 979.5 112.7 981.6 110.5 983.6 108.3 985.7 106.1 987.8 104.0 990.0 101.8 992.1 99.7 994.3 97.7 996.6 95.6 998.8 93.6 1001.1 91.7 1003.5 89.8 1005.9 87.9 1008.3 86.0 1010.8 84.3 1013.3 82.5 1015.9 80.9 1018.5 79.2 1021.1 77.7 1023.8 76.2 1026.6 74.7 1029.3 73.4 1032.1 72.1 1035.0 70.9 1037.8 69.8 1040.7 68.8 1043.5 67.9 1046.4 67.1 1049.3 66.4 1052.2 65.8 1055.1 65.3 1058.0 65.0 1060.8 64.8 1063.7 64.7 1066.6 64.7 1069.4 64.9 1072.2 65.3 1075.0 65.7 1077.7 66.3 1080.4 67.0 1083.2 67.8 1085.9 68.8 1088.6 69.8 1091.3 70.9 1093.9 72.1 1096.6 73.3 1099.3 74.7 1101.9 76.0 1104.6 77.5 1107.2 78.9 1109.9 80.4 1112.5 82.0 1115.2 83.5 1117.9 85.1 1120.6 86.7 1123.2 88.2 1125.9 89.8 1128.6 91.3 1131.4 92.8 1134.1 94.3 1136.8 95.8 1139.6 97.2 1142.3 98.7 1145.1 100.0 1147.9 101.4 1150.7 102.7 1153.5 104.1 1156.3 105.3 1159.1 106.6 1161.9 107.8 1164.7 108.9 1167.5 110.0 1170.4 111.1 1173.2 112.1 1176.1 113.1 1178.9 114.0 1181.8 114.9 1184.6 115.8 1187.5 116.5 1190.4 117.3 1193.2 117.9 1196.1 118.5 1199.0 119.1 1201.8 119.6 1204.7 120.0 1207.6 120.4 1210.5 120.7 1213.3 120.9 1216.2 121.0 1219.1 121.1 1222.0 121.1 1224.8 121.1 1227.7 120.9 1230.6 120.7 1233.5 120.4 1236.3 120.0 1239.2 119.6 1242.0 119.0 1244.9 118.4 1247.7 117.6 1250.6 116.8 1253.4 115.9 1256.2 114.9 1259.1 113.8 1261.9 112.7 1264.7 111.5 1267.5 110.2 1270.4 108.9 1273.2 107.6 1276.0 106.2 1278.8 104.8 1281.6 103.5 1284.5 102.1 1287.3 100.7 1290.1 99.3 1293.0 98.0 1295.8 96.6 1298.7 95.4 1301.6 94.1 1304.4 93.0 1307.3 91.9 1310.2 90.8 1313.1 89.9 1316.0 89.0 1319.0 88.3 1321.9 87.6 1324.9 87.0 1327.8 86.6 1330.8 86.3 1333.8 86.1 1336.8 86.0 1339.8 86.0 1342.7 86.0 1345.7 86.2 1348.7 86.5 1351.6 86.9 1354.6 87.4 1357.5 87.9 1360.4 88.6 1363.3 89.3 1366.1 90.1 1368.9 91.0 1371.7 92.0 1374.5 93.0 1377.2 94.1 1379.8 95.3 1382.5 96.5 1385.0 97.9 1387.6 99.2 1390.1 100.7 1392.5 102.2 1394.9 103.8 1397.3 105.4 1399.6 107.1 1401.9 108.8 1404.2 110.6 1406.4 112.4 1408.6 114.3 1410.8 116.3 1412.9 118.2 1415.0 120.3 1417.1 122.4 1419.1 124.5 1421.1 126.6 1423.1 128.8 1425.0 131.1 1426.9 133.3 1428.8 135.7 1430.7 138.0 1432.5 140.4 1434.3 142.8 1436.1 145.2 1437.9 147.7 1439.6 150.1 1441.3 152.6 1443.1 155.2 1444.7 157.7 1446.4 160.3 1448.1 162.9 1449.7 165.5 1451.3 168.1 1452.9 170.7 1454.5 173.4 1456.1 176.0 1457.6 178.7 1459.2 181.3 1460.7 184.0 1462.3 186.7 1463.8 189.4 1465.3 192.0 1466.8 194.7 1468.3 197.4 1469.8 200.0 1471.3 202.7 1472.8 205.4 1474.2 208.0 1475.7 210.7 1477.2 213.4 1478.6 216.0 1480.1 218.7 1481.5 221.3 1482.9 224.0 1484.4 226.6 1485.8 229.3 1487.2 232.0 1488.6 234.6 1490.1 237.3 1491.5 239.9 1492.9 242.5 1494.3 245.2 1495.7 247.8 1497.1 250.5 1498.4 253.1 1499.8 255.8 1501.2 258.4 1502.6 261.1 1504.0 263.7 1505.3 266.4 1506.7 269.0 1508.1 271.7 1509.4 274.3 1510.8 276.9 1512.1 279.6 1513.5 282.2 1514.9 284.9 1516.2 287.5 1517.6 290.2 1518.9 292.8 1520.3 295.5 1521.6 298.1 1523.0 300.8 1524.3 303.4 1525.7 306.1 1527.0 308.7 1528.3 311.4 1529.7 314.0 1531.0 316.7 1532.4 319.4 1533.7 322.0 1535.1 324.7 1536.4 327.3 1537.8 330.0 1539.1 332.7 1540.5 335.3 1541.8 338.0 1543.1 340.7 1544.5 343.3 1545.8 346.0 1547.2 348.7 1548.5 351.3 1549.9 354.0 1551.2 356.7 1552.6 359.3 1554.0 362.0 1555.3 364.7 1556.7 367.3 1558.0 370.0 1559.4 372.7 1560.7 375.4 1562.1 378.0 1563.4 380.7 1564.8 383.4 1566.2 386.1 1567.5 388.7 1568.9 391.4 1570.3 394.1 1571.6 396.7 1573.0 399.4 1574.4 402.1 1575.8 404.7 1577.1 407.4 1578.5 410.1 1579.9 412.8 1581.3 415.4 1582.6 418.1 1584.0 420.8 1585.4 423.4 1586.8 426.1 1588.2 428.8 1589.6 431.4 1591.0 434.1 1592.4 436.7 1593.8 439.4 1595.2 442.1 1596.6 444.7 1598.0 447.4 1599.4 450.0 1600.8 452.7 1602.2 455.4 1603.6 458.0 1605.1 460.7 1606.5 463.3 1607.9 466.0 1609.3 468.6 1610.8 471.2 1612.2 473.9 1613.7 476.5 1615.1 479.2 1616.5 481.8 1618.0 484.5 1619.4 487.1 1620.9 489.7 1622.3 492.4 1623.8 495.0 1625.3 497.6 1626.7 500.2 1628.2 502.9 1629.7 505.5 1631.2 508.1 1632.6 510.7 1634.1 513.3 1635.6 515.9 1637.1 518.6 1638.6 521.2 1640.1 523.8 1641.6 526.4 1643.1 529.0 1644.6 531.6 1646.2 534.2 1647.7 536.8 1649.2 539.3 1650.7 541.9 1652.3 544.5 1653.8 547.1 1655.3 549.7 1656.9 552.3 1658.5 554.8 1660.0 557.4 1661.6 560.0 1663.1 562.5 1664.7 565.1 1666.3 567.6 1667.9 570.2 1669.5 572.7 1671.0 575.3 1672.6 577.8 1674.2 580.4 1675.8 582.9 1677.5 585.4 1679.1 588.0 1680.7 590.5 1682.3 593.0 1684.0 595.5 1685.6 598.0 1687.2 600.5 1688.9 603.0 1690.5 605.5 1692.2 608.0 1693.9 610.5 1695.5 613.0 1697.2 615.5 1698.9 618.0 1700.6 620.5 1702.3 622.9 1704.0 625.4 1705.7 627.9 1707.4 630.3 1709.1 632.8 1710.9 635.2 1712.6 637.7 1714.3 640.1 1716.1 642.5 1717.8 645.0 1719.6 647.4 1721.3 649.8 1723.1 652.2 1724.9 654.7 1726.7 657.1 1728.5 659.5 1730.3 661.9 1732.1 664.2 1733.9 666.6 1735.7 669.0 1737.5 671.4 1739.4 673.8 1741.2 676.1 1743.0 678.5 1744.9 680.8 1746.8 683.2 1748.6 685.5 1750.5 687.9 1752.4 690.2 1754.3 692.5 1756.2 694.8 1758.1 697.2 1760.0 699.5 1761.9 701.8 1763.8 704.1 1765.8 706.3 1767.7 708.6 1769.7 710.9 1771.6 713.2 1773.6 715.4 1775.6 717.7 1777.6 720.0 1779.5 722.2 1781.5 724.5 1783.6 726.7 1785.6 728.9 1787.6 731.1 1789.6 733.4 1791.7 735.6 1793.7 737.8 1795.8 740.0 1797.8 742.1 1799.9 744.3 1802.0 746.5" stroke="#cc9900" stroke-width="5.8" stroke-dasharray="0.00 0.00 15.45 13.61 16.00 13.20 16.00 13.59 16.00 13.64 16.00 14.30 16.00 14.47 16.00 14.85 16.00 13.29 16.00 11.15 16.00 8.29 16.00 8.37 16.00 12.84 16.00 13.08 16.00 14.46 16.00 13.84 16.00 13.97 16.00 12.89 16.00 13.38 16.00 13.80 16.00 13.54 16.00 14.21 16.00 14.41 16.00 13.86 16.00 12.82 16.00 12.97 16.00 13.01 16.00 14.17 16.00 13.42 16.00 14.15 16.00 14.63 16.00 14.39 16.00 13.35 16.00 13.48 16.00 13.41 16.00 13.30 16.00 13.48 16.00 14.31 16.00 14.66 16.00 13.97 16.00 14.02 16.00 13.70 16.00 14.30 16.00 13.28 16.00 12.75 16.00 14.25 16.00 14.73 16.00 14.64 16.00 14.00 16.00 12.84 16.00 13.25 16.00 13.96 16.00 14.43 16.00 14.03 16.00 13.66 16.00 13.13 16.00 13.79 16.00 14.41 16.00 13.53 16.00 13.78 16.00 13.77 16.00 13.36 16.00 13.49 16.00 14.01 16.00 14.05 16.00 13.59 16.00 14.39 16.00 14.19 16.00 13.86 16.00 14.06 16.00 13.79 16.00 13.71 16.00 13.66 16.00 13.95 16.00 13.33 16.00 14.39 16.00 14.09 16.00 13.95 16.00 13.75 16.00 14.02 16.00 13.89 16.00 13.37 16.00 13.63 8.47 50.00"/>
</g>
<line x1="191.0" y1="47.0" x2="1803.0" y2="47.0" stroke="#9a9a9a" stroke-width="3.8"/>
<line x1="191.0" y1="1347.0" x2="1803.0" y2="1347.0" stroke="#9a9a9a" stroke-width="3.8"/>
<line x1="192.0" y1="47.0" x2="192.0" y2="1348.0" stroke="#333333" stroke-width="2.0"/>
<line x1="1802.0" y1="47.0" x2="1802.0" y2="1348.0" stroke="#333333" stroke-width="2.0"/>
<path d="M281.4 47.0v12.5M281.4 1347.0v-12.5M370.9 47.0v12.5M370.9 1347.0v-12.5M460.3 47.0v25.5M460.3 1347.0v-25.5M549.8 47.0v12.5M549.8 1347.0v-12.5M639.2 47.0v12.5M639.2 1347.0v-12.5M728.7 47.0v25.5M728.7 1347.0v-25.5M818.1 47.0v12.5M818.1 1347.0v-12.5M907.6 47.0v12.5M907.6 1347.0v-12.5M997.0 47.0v25.5M997.0 1347.0v-25.5M1086.4 47.0v12.5M1086.4 1347.0v-12.5M1175.9 47.0v12.5M1175.9 1347.0v-12.5M1265.3 47.0v25.5M1265.3 1347.0v-25.5M1354.8 47.0v12.5M1354.8 1347.0v-12.5M1444.2 47.0v12.5M1444.2 1347.0v-12.5M1533.7 47.0v25.5M1533.7 1347.0v-25.5M1623.1 47.0v12.5M1623.1 1347.0v-12.5M1712.6 47.0v12.5M1712.6 1347.0v-12.5" stroke="#333333" stroke-width="2.0" fill="none"/>
<path d="M192.0 1217.0h12.7M1802.0 1217.0h-12.7M192.0 1087.0h25M1802.0 1087.0h-25M192.0 957.0h12.7M1802.0 957.0h-12.7M192.0 827.0h25M1802.0 827.0h-25M192.0 697.0h12.7M1802.0 697.0h-12.7M192.0 567.0h25M1802.0 567.0h-25M192.0 437.0h12.7M1802.0 437.0h-12.7M192.0 307.0h25M1802.0 307.0h-25M192.0 177.0h12.7M1802.0 177.0h-12.7" stroke="#9a9a9a" stroke-width="3.8" fill="none"/>
<text x="164.8" y="1363.0" font-family="Liberation Serif, Times New Roman, serif" stroke="#fff" stroke-width="0.9" font-size="56.5" text-anchor="end">0.0</text>
<text x="164.8" y="1103.0" font-family="Liberation Serif, Times New Roman, serif" stroke="#fff" stroke-width="0.9" font-size="56.5" text-anchor="end">0.2</text>
<text x="164.8" y="843.0" font-family="Liberation Serif, Times New Roman, serif" stroke="#fff" stroke-width="0.9" font-size="56.5" text-anchor="end">0.4</text>
<text x="164.8" y="583.0" font-family="Liberation Serif, Times New Roman, serif" stroke="#fff" stroke-width="0.9" font-size="56.5" text-anchor="end">0.6</text>
<text x="164.8" y="323.0" font-family="Liberation Serif, Times New Roman, serif" stroke="#fff" stroke-width="0.9" font-size="56.5" text-anchor="end">0.8</text>
<text x="164.8" y="63.0" font-family="Liberation Serif, Times New Roman, serif" stroke="#fff" stroke-width="0.9" font-size="56.5" text-anchor="end">1.0</text>
<text x="192.0" y="1416.5" font-family="Liberation Serif, Times New Roman, serif" stroke="#fff" stroke-width="0.9" font-size="56.5" text-anchor="middle">0.7</text>
<text x="460.3" y="1416.5" font-family="Liberation Serif, Times New Roman, serif" stroke="#fff" stroke-width="0.9" font-size="56.5" text-anchor="middle">1.0</text>
<text x="728.7" y="1416.5" font-family="Liberation Serif, Times New Roman, serif" stroke="#fff" stroke-width="0.9" font-size="56.5" text-anchor="middle">1.3</text>
<text x="997.0" y="1416.5" font-family="Liberation Serif, Times New Roman, serif" stroke="#fff" stroke-width="0.9" font-size="56.5" text-anchor="middle">1.6</text>
<text x="1265.3" y="1416.5" font-family="Liberation Serif, Times New Roman, serif" stroke="#fff" stroke-width="0.9" font-size="56.5" text-anchor="middle">1.9</text>
<text x="1533.7" y="1416.5" font-family="Liberation Serif, Times New Roman, serif" stroke="#fff" stroke-width="0.9" font-size="56.5" text-anchor="middle">2.2</text>
<text x="1802.0" y="1416.5" font-family="Liberation Serif, Times New Roman, serif" stroke="#fff" stroke-width="0.9" font-size="56.5" text-anchor="middle">2.5</text>
<text x="997.5" y="1527.5" font-family="Liberation Serif, Times New Roman, serif" stroke="#fff" stroke-width="0.9" font-size="68.5" text-anchor="middle">Wavelength(μm)</text>
<text transform="translate(67,697.5) rotate(-90)" font-family="Liberation Serif, Times New Roman, serif" stroke="#fff" stroke-width="0.9" font-size="68" text-anchor="middle">Absorptivity</text>
<text x="1142.7" y="870.5" font-family="Liberation Serif, Times New Roman, serif" stroke="#fff" stroke-width="0.9" font-size="68" font-style="italic">h</text>
<text x="1179.6" y="889" font-family="Liberation Serif, Times New Roman, serif" stroke="#fff" stroke-width="0.9" font-size="48" font-style="italic">1</text>
<line x1="1056" y1="929.3" x2="1211.5" y2="929.3" stroke="#00ff00" stroke-width="5.6" stroke-dasharray="39 17 9.8 17.4"/>
<text x="1227" y="953" font-family="Liberation Serif, Times New Roman, serif" stroke="#fff" stroke-width="0.9" font-size="67.5">75nm</text>
<line x1="1059" y1="1012.4" x2="1210.5" y2="1012.4" stroke="#ff0000" stroke-width="6.2" stroke-linecap="round"/>
<text x="1227" y="1035.7" font-family="Liberation Serif, Times New Roman, serif" stroke="#fff" stroke-width="0.9" font-size="67.5">95nm</text>
<line x1="1056" y1="1095.4" x2="1211.5" y2="1095.4" stroke="#ad78e0" stroke-width="5.6" stroke-dasharray="33 32.7"/>
<text x="1227" y="1118.4" font-family="Liberation Serif, Times New Roman, serif" stroke="#fff" stroke-width="0.9" font-size="67.5">105nm</text>
<line x1="1056" y1="1178.7" x2="1211.5" y2="1178.7" stroke="#cc9900" stroke-width="5.6" stroke-dasharray="16 13.7"/>
<text x="1227" y="1201.4" font-family="Liberation Serif, Times New Roman, serif" stroke="#fff" stroke-width="0.9" font-size="67.5">115nm</text>
</svg>
</body></html>
